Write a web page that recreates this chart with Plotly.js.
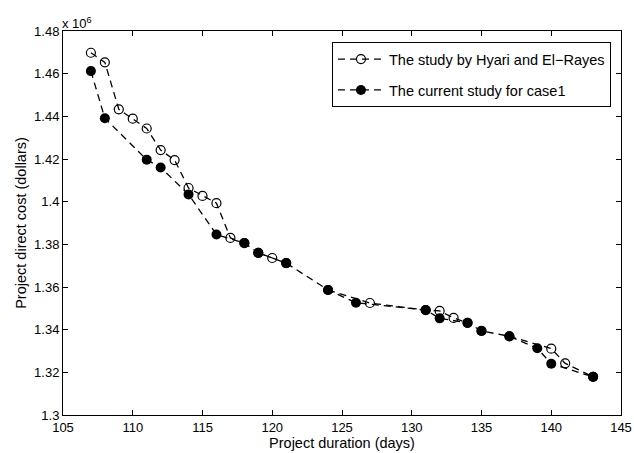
<!DOCTYPE html>
<html>
<head>
<meta charset="utf-8">
<script src="https://cdn.plot.ly/plotly-3.0.1.min.js"></script>
<style>html,body{margin:0;padding:0;background:#fff;}#chart{width:634px;height:453px;}</style>
</head>
<body>
<div id="chart"></div>
<script>
// Project duration (days) and direct cost (x 10^6 dollars)
const hyariDays = [107, 108, 109, 110, 111, 112, 113, 114, 115, 116, 117, 118, 119, 120, 121, 124, 127, 131, 132, 133, 134, 135, 137, 140, 141, 143];
const hyariCost = [1.4698, 1.4653, 1.4433, 1.4389, 1.4343, 1.4242, 1.4195, 1.4064, 1.4027, 1.3993, 1.3830, 1.3806, 1.3760, 1.3736, 1.3712, 1.3586, 1.3525, 1.3492, 1.3488, 1.3455, 1.3432, 1.3394, 1.3369, 1.3311, 1.3242, 1.3179];
const currentDays = [107, 108, 111, 112, 114, 116, 118, 119, 121, 124, 126, 131, 132, 134, 135, 137, 139, 140, 143];
const currentCost = [1.4612, 1.4391, 1.4197, 1.4160, 1.4034, 1.3846, 1.3806, 1.3760, 1.3712, 1.3586, 1.3526, 1.3492, 1.3453, 1.3432, 1.3394, 1.3369, 1.3313, 1.3240, 1.3179];
const xTicks = [105, 110, 115, 120, 125, 130, 135, 140, 145];
const yTicks = [1.3, 1.32, 1.34, 1.36, 1.38, 1.4, 1.42, 1.44, 1.46, 1.48];
const yTickText = ['1.3', '1.32', '1.34', '1.36', '1.38', '1.4', '1.42', '1.44', '1.46', '1.48'];
const seriesNames = ['The study by Hyari and El\u2212Rayes', 'The current study for case1'];

// Where both studies share a segment, draw its dashed line once (from the current study)
function isShared(d, c) {
  const i = currentDays.indexOf(d);
  return i >= 0 && Math.abs(currentCost[i] - c) < 0.0005;
}
const hx = [], hy = [];
for (let i = 0; i < hyariDays.length; i++) {
  if (i > 0 && isShared(hyariDays[i - 1], hyariCost[i - 1]) && isShared(hyariDays[i], hyariCost[i])) {
    hx.push(null); hy.push(null);
  }
  hx.push(hyariDays[i]); hy.push(hyariCost[i]);
}

const fam = 'Liberation Sans, Arial, sans-serif';
const tickFont = {family: fam, size: 13, color: '#000'};
const titleFont = {family: fam, size: 14.5, color: '#000'};
const dash = '7px,5px';

const traces = [
  {
    x: hx, y: hy, name: seriesNames[0], type: 'scatter', mode: 'lines+markers',
    legendgroup: 'a', connectgaps: false,
    line: {color: '#000', width: 1.3, dash: dash},
    marker: {symbol: 'circle-open', size: 9, color: '#000', line: {width: 1.2, color: '#000'}}
  },
  {
    x: currentDays, y: currentCost, name: seriesNames[1], type: 'scatter', mode: 'lines+markers',
    legendgroup: 'b',
    line: {color: '#000', width: 1.3, dash: dash},
    marker: {symbol: 'circle', size: 10, color: '#000'}
  }
];

const axisCommon = {
  showline: true, linecolor: '#000', linewidth: 1, mirror: 'ticks',
  ticks: 'inside', ticklen: 5, tickcolor: '#000', showgrid: false, zeroline: false,
  tickfont: tickFont
};

const layout = {
  width: 634, height: 453,
  margin: {l: 63, r: 13, t: 31, b: 38},
  paper_bgcolor: '#fff', plot_bgcolor: '#fff',
  font: tickFont,
  showlegend: true,
  legend: {
    x: 0.982, y: 0.971, xanchor: 'right', yanchor: 'top',
    bgcolor: '#fff', bordercolor: '#000', borderwidth: 1,
    font: titleFont, itemwidth: 46,
    traceorder: 'grouped', tracegroupgap: 9
  },
  xaxis: Object.assign({}, axisCommon, {
    range: [105, 145], tickvals: xTicks, ticktext: xTicks.map(String),
    title: {text: 'Project duration (days)', font: titleFont, standoff: 2}
  }),
  yaxis: Object.assign({}, axisCommon, {
    range: [1.3, 1.48], tickvals: yTicks, ticktext: yTickText,
    title: {text: 'Project direct cost (dollars)', font: titleFont, standoff: 4}
  }),
  annotations: [{
    xref: 'paper', yref: 'paper', x: 0, y: 1, xanchor: 'left', yanchor: 'bottom',
    text: 'x 10<sup>6</sup>', showarrow: false, font: tickFont, xshift: -3, yshift: -2
  }]
};

Plotly.newPlot('chart', traces, layout, {displayModeBar: false, staticPlot: true});
</script>
</body>
</html>
